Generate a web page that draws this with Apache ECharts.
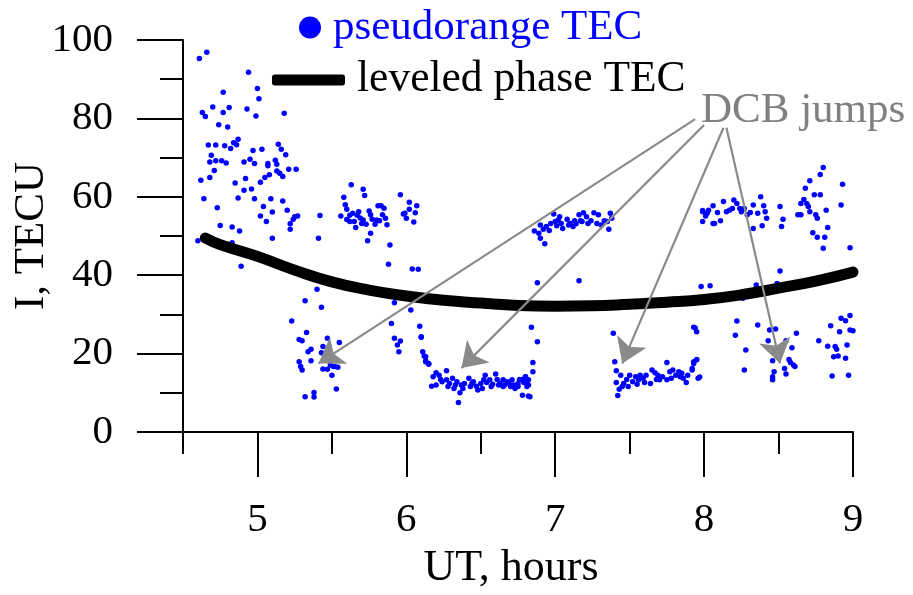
<!DOCTYPE html>
<html>
<head>
<meta charset="utf-8">
<script src="https://cdn.jsdelivr.net/npm/echarts@6/dist/echarts.min.js"></script>
<style>
html,body{margin:0;padding:0;background:#fff;}
#chart{width:913px;height:595px;}
</style>
</head>
<body>
<div id="chart"></div>
<script>
// ---- data ----
const xTickValues = [5, 6, 7, 8, 9];
const xMinorTickValues = [4.5, 5.5, 6.5, 7.5, 8.5];

// leveled phase TEC curve (UT hours, TECU)
const phaseUT  = [4.65, 4.75, 5.0, 5.25, 5.5, 5.75, 6.0, 6.25, 6.5, 6.75, 7.0, 7.25, 7.5, 7.75, 8.0, 8.25, 8.5, 8.75, 9.0];
const phaseTEC = [49.5, 47.8, 44.8, 41.3, 38.3, 36.2, 34.7, 33.6, 32.9, 32.3, 32.1, 32.2, 32.6, 33.1, 33.8, 35.0, 36.7, 38.5, 40.8];

// pseudorange TEC points [UT, TECU]
const pseudorangeEarly = [
[4.61,95.3],[4.66,96.9],[4.94,91.8],[4.77,86.7],[5.0,87.6],[5.01,85.0],[4.63,81.5],[4.65,80.5],[4.70,82.9],[4.77,81.5],
[4.81,82.8],[4.93,82.4],[4.99,80.6],[5.18,81.3],[4.74,78.4],[4.80,77.8],[4.87,74.7],[4.84,73.8],[4.67,73.2],[4.72,73.2],
[4.78,73.0],[4.82,72.3],[4.86,73.3],[4.97,71.8],[5.03,72.1],[5.14,73.4],[5.16,72.1],[5.19,70.7],[4.69,70.6],[4.68,68.9],
[4.72,69.2],[4.76,69.2],[4.79,68.6],[4.91,68.9],[4.95,69.6],[4.98,68.5],[5.07,68.5],[5.07,67.9],[5.12,69.3],[5.13,68.3],
[4.71,66.7],[4.62,64.2],[4.68,64.9],[4.92,64.7],[5.05,64.9],[5.08,65.6],[5.13,66.6],[5.15,66.0],[5.17,65.2],[5.21,67.0],
[5.26,67.0],[4.85,63.5],[5.02,63.7],[4.91,61.7],[4.96,62.0],[4.64,59.5],[4.87,59.7],[4.98,59.5],[5.09,59.5],[5.17,58.9],
[4.73,57.2],[5.04,57.5],[5.10,56.1],[5.20,56.6],[5.02,55.1],[5.06,53.7],[5.42,55.2],[5.25,54.9],[5.27,55.1],[5.24,54.3],
[5.22,53.1],[5.22,51.7],[4.75,52.7],[4.83,52.3],[4.88,51.3],[4.60,48.8],[5.10,49.4],[5.41,49.4],[4.83,48.3],[4.90,46.7],
[4.89,42.3],[5.24,41.3]
];
const pseudorangeMid = [
[5.63,63.1],[5.71,61.9],[5.72,60.3],[5.58,59.9],[5.59,58.0],[5.60,56.8],[5.56,55.1],[5.62,55.3],[5.62,53.7],[5.65,53.7],
[5.66,52.2],[5.67,55.3],[5.68,56.2],[5.70,53.2],[5.71,54.1],[5.73,53.0],[5.76,55.4],[5.77,54.3],[5.79,53.0],[5.81,57.7],
[5.83,57.7],[5.85,57.1],[5.84,55.4],[5.86,54.5],[5.82,53.9],[5.87,52.9],[5.76,50.7],[5.74,48.8],[5.80,54.1],[5.64,55.8],
[5.69,54.6],[5.75,56.4],[5.60,54.2],
[5.96,60.5],[6.02,58.6],[6.07,57.7],[5.99,55.8],[6.00,54.5],[6.02,56.8],[6.06,55.9],[6.05,53.6],[5.98,55.6],
[5.89,47.7],[5.88,42.8],[6.04,41.6],[6.08,41.5],[5.40,36.4],[5.32,33.5],[5.43,31.8],[5.23,28.3],
[5.33,25.4],[5.28,23.6],[5.30,23.3],[5.47,23.9],[5.55,22.8],[5.44,21.8],[5.36,21.1],[5.34,20.5],[5.43,20.2],[5.36,18.2],
[5.28,17.9],[5.49,17.1],[5.52,16.7],[5.54,16.5],[5.47,16.0],[5.44,16.1],[5.29,16.7],[5.30,15.8],[5.50,14.5],[5.53,11.0],
[5.38,10.1],[5.32,9.0],[5.38,8.9],[5.51,16.7],
[5.92,33.0],[6.03,31.1],[5.90,27.7],[6.09,27.0],[5.92,23.9],[6.10,24.2],[5.96,23.2],[5.94,22.2],[5.95,20.5],[6.11,20.5],
[6.12,19.4],[6.13,18.2],[6.15,17.5],[6.10,24.3],[6.13,19.2],[6.13,17.9],[6.15,17.3]
];
const pseudorangeLowBand = [
[6.84,26.7],[6.88,23.0],[6.85,17.7],[6.85,15.4],
[6.20,15.1],[6.18,14.1],[6.22,14.5],[6.23,13.4],[6.17,11.7],[6.20,12.0],[6.24,12.8],[6.27,15.6],[6.27,13.3],[6.29,12.4],
[6.31,13.7],[6.33,12.0],[6.34,12.8],[6.36,10.0],[6.35,7.5],[6.37,12.0],[6.39,12.4],[6.42,13.7],[6.43,11.6],[6.45,12.8],
[6.47,11.7],[6.50,12.4],[6.51,11.1],[6.53,14.5],[6.54,12.6],[6.56,13.3],[6.58,12.2],[6.60,14.8],[6.61,13.4],[6.63,12.4],
[6.65,13.3],[6.66,12.0],[6.68,12.8],[6.70,11.6],[6.71,13.3],[6.73,11.1],[6.75,12.4],[6.76,13.4],[6.78,9.4],[6.79,12.6],
[6.80,14.1],[6.82,12.0],[6.83,9.0],[6.28,11.6],[6.32,11.1],[6.38,11.1],[6.44,12.4],[6.48,10.7],[6.52,13.3],[6.57,11.6],
[6.62,12.0],[6.65,11.6],[6.69,12.4],[6.72,12.0],[6.75,11.6],[6.78,13.4],[6.81,12.4],[6.80,14.1],[6.82,13.3],[6.81,11.6],
[6.79,12.9],[6.82,9.2]
];
const pseudorangeSeven = [
[6.86,51.3],[6.89,50.7],[6.93,48.0],[6.90,49.4],[6.92,51.7],[6.94,52.4],[6.97,53.2],[6.99,55.6],[7.00,53.7],[7.02,54.1],
[7.04,53.2],[7.05,51.9],[7.08,54.3],[7.10,53.2],[7.12,52.4],[7.13,53.9],[7.16,55.4],[7.18,53.7],[7.19,55.9],[7.21,54.9],
[7.22,53.2],[7.24,53.9],[7.26,55.9],[7.29,55.4],[7.28,53.2],[7.31,52.8],[7.33,53.9],[7.35,53.7],[7.36,51.7],[7.37,55.8],
[7.38,54.5],[6.90,52.8],[6.96,51.4],[7.01,52.6],[7.03,54.9],[7.09,52.8],[7.14,53.1],[7.17,53.9],[6.88,38.1],[7.16,38.6],
[7.39,25.2],[7.40,17.9],[7.41,15.6],[7.44,14.5],[7.41,12.6],[7.43,10.9],[7.42,9.3],[7.46,12.4],[7.48,13.4],[7.50,14.5],
[7.52,12.8],[7.54,14.1],[7.56,13.3],[7.57,14.5],[7.59,13.7],[7.61,14.5],[7.64,12.4],[7.65,15.8],[7.67,15.1],[7.69,14.5],
[7.70,13.3],[7.72,14.1],[7.75,13.3],[7.75,17.7],[7.77,15.4],[7.79,15.8],[7.81,14.5],[7.83,15.4],[7.85,15.0],[7.86,13.7],
[7.88,12.6],[7.89,14.5],[7.92,15.8],[7.93,17.9],[7.95,18.5],[7.97,14.0],[7.93,26.7],[7.95,25.6],[7.45,11.6],[7.49,11.6],
[7.55,12.2],[7.60,12.6],[7.68,13.4],[7.78,13.7],[7.84,14.1],[7.95,18.4],[7.93,17.5],[7.92,16.2],[7.96,13.7],[7.94,26.5]
];
const pseudorangeLate = [
[7.99,56.5],[8.02,55.8],[7.99,53.7],[8.06,57.7],[8.06,53.2],[7.98,37.1],[8.04,37.3],[7.99,56.2],[8.01,55.1],[8.03,56.6],
[8.07,53.2],[8.09,56.0],[8.11,53.9],[8.13,58.8],[8.15,56.2],[8.17,56.6],[8.19,57.0],[8.20,59.2],[8.22,58.3],[8.24,57.0],
[8.25,56.2],[8.27,57.0],[8.29,55.4],[8.31,56.0],[8.33,57.9],[8.33,51.9],[8.36,55.8],[8.38,60.0],[8.39,52.6],[8.40,57.7],
[8.41,56.2],[8.42,54.5],[8.51,57.5],[8.53,54.3],[8.52,52.4],
[8.80,67.5],[8.78,65.7],[8.71,64.1],[8.93,63.2],[8.68,62.2],[8.74,60.5],[8.78,60.5],[8.67,59.3],[8.69,58.2],[8.65,58.3],
[8.70,57.5],[8.92,57.9],[8.82,56.6],[8.71,56.2],[8.63,55.4],[8.65,55.4],[8.75,55.4],[8.76,54.5],[8.83,52.2],[8.73,50.8],
[8.76,49.7],[8.81,49.7],[8.80,46.9],[8.98,47.0],
[8.51,41.1],[8.49,37.9],[8.35,37.5],[8.26,34.1],
[8.22,28.3],[8.36,27.3],[8.21,24.7],[8.44,26.0],[8.48,26.3],[8.62,25.2],[8.43,23.3],[8.55,23.3],[8.28,20.9],[8.59,21.5],
[8.46,18.2],[8.57,18.5],[8.58,17.7],[8.60,17.1],[8.61,16.7],[8.54,16.2],[8.47,15.4],[8.27,15.8],[8.55,14.8],[8.46,14.1],
[8.46,13.3],
[8.98,29.7],[8.92,29.0],[8.95,28.4],[8.85,27.1],[8.91,25.6],[8.98,26.0],[9.0,25.8],[8.77,23.3],[8.83,21.9],[8.88,21.8],
[8.96,22.2],[8.89,21.1],[8.87,19.2],[8.90,19.4],[8.95,18.8],[8.86,14.3],[8.97,14.5]
];

// DCB jump annotation arrows: [start UT, start TEC, end UT, end TEC]
const dcbArrows = [
  [7.94, 79.8, 5.41, 17.5],
  [8.00, 78.3, 6.37, 16.3],
  [8.13, 77.6, 7.45, 17.5],
  [8.15, 77.6, 8.51, 17.5]
];

// ---- chart ----
const FONT = '"Liberation Serif", "Times New Roman", serif';
const chart = echarts.init(document.getElementById('chart'), null, {renderer: 'canvas'});
const pseudorangePoints = [].concat(pseudorangeEarly, pseudorangeMid, pseudorangeLowBand, pseudorangeSeven, pseudorangeLate);
const phaseData = phaseUT.map((x, i) => [x, phaseTEC[i]]);
const axisLineStyle = {color: '#000', width: 2};

chart.setOption({
  animation: false,
  backgroundColor: '#fff',
  grid: {left: 183, right: 60, top: 40, bottom: 163, containLabel: false, outerBoundsMode: 'none'},
  legend: [
    {
      data: [{name: 'pseudorange TEC', icon: 'circle', textStyle: {color: '#0000ff'}}],
      left: 299, top: 6, padding: 0, itemWidth: 22, itemHeight: 22, selectedMode: false,
      itemStyle: {opacity: 1, color: '#0000ff'},
      textStyle: {fontSize: 43, fontFamily: FONT, color: '#0000ff', padding: [0, 0, 0, 7]}
    },
    {
      data: [{name: 'leveled phase TEC', icon: 'roundRect', textStyle: {color: '#000'}}],
      left: 272, top: 58, padding: 0, itemWidth: 73, itemHeight: 11, selectedMode: false,
      textStyle: {fontSize: 43.5, fontFamily: FONT, color: '#000', padding: [0, 0, 0, 7]}
    }
  ],
  xAxis: [
    {
      type: 'value', min: 4.5, max: 9, gridIndex: 0, position: 'bottom',
      axisLine: {show: true, onZero: false, lineStyle: axisLineStyle},
      axisTick: {show: true, customValues: xTickValues, length: 45, lineStyle: axisLineStyle},
      axisLabel: {show: true, customValues: xTickValues, margin: 68, fontSize: 41, fontFamily: FONT, color: '#000'},
      splitLine: {show: false},
      name: 'UT, hours', nameLocation: 'middle', nameGap: 114, nameMoveOverlap: false,
      nameTextStyle: {fontSize: 44, fontFamily: FONT, color: '#000', padding: [0, 14, 0, 0]}
    },
    {
      type: 'value', min: 4.5, max: 9, gridIndex: 0, position: 'bottom',
      axisLine: {show: false, onZero: false},
      axisTick: {show: true, customValues: xMinorTickValues, length: 22, lineStyle: axisLineStyle},
      axisLabel: {show: false},
      splitLine: {show: false}
    }
  ],
  yAxis: {
    type: 'value', min: 0, max: 100, interval: 20,
    axisLine: {show: true, onZero: false, lineStyle: axisLineStyle},
    axisTick: {show: true, length: 46, lineStyle: axisLineStyle},
    minorTick: {show: true, splitNumber: 2, length: 23, lineStyle: axisLineStyle},
    splitLine: {show: false}, minorSplitLine: {show: false},
    axisLabel: {margin: 70, fontSize: 41, fontFamily: FONT, color: '#000'},
    name: 'I, TECU', nameLocation: 'middle', nameGap: 130, nameRotate: 90, nameMoveOverlap: false,
    nameTextStyle: {fontSize: 43, fontFamily: FONT, color: '#000'}
  },
  graphic: [
    {type: 'text', left: 701, top: 89, silent: true,
     style: {text: 'DCB jumps', font: '43px ' + FONT, fill: '#808080'}}
  ],
  series: [
    {
      name: 'pseudorange TEC', type: 'scatter', data: pseudorangePoints,
      symbol: 'circle', symbolSize: 5.5, itemStyle: {color: '#0000ff', opacity: 1}, z: 2
    },
    {
      name: 'leveled phase TEC', type: 'line', data: phaseData, smooth: true,
      symbol: 'none', showSymbol: false, z: 3,
      itemStyle: {color: '#000'},
      lineStyle: {color: '#000', width: 11, cap: 'round'}
    },
    {
      name: 'DCB jumps', type: 'line', data: [], z: 10,
      markLine: {
        silent: true, animation: false,
        symbol: ['none', 'arrow'], symbolSize: 24,
        label: {show: false},
        lineStyle: {color: '#8a8a8a', width: 2.2, type: 'solid', opacity: 1},
        itemStyle: {color: '#8a8a8a', opacity: 1},
        emphasis: {disabled: true},
        data: dcbArrows.map(a => [
          {coord: [a[0], a[1]], symbol: 'none'},
          {coord: [a[2], a[3]], symbol: 'arrow', symbolSize: 24}
        ])
      }
    }
  ]
});
</script>
</body>
</html>
